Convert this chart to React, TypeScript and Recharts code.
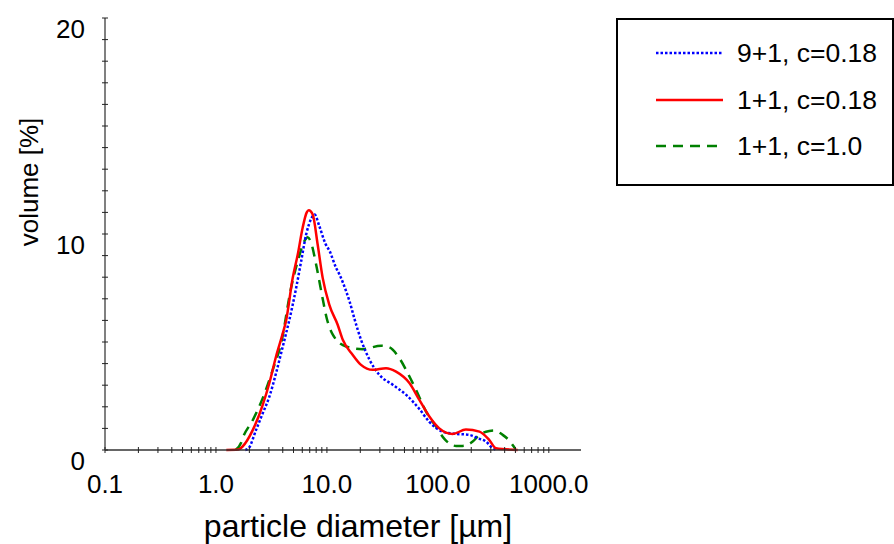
import { LineChart, Line, XAxis, YAxis, Label } from 'recharts';

// particle diameter [µm] / volume [%], one pair of arrays per series
const blueDiameters = [1.84, 1.97, 2.3, 2.64, 3.03, 3.48, 3.87, 4.29, 4.59, 5.28, 5.86, 6.5, 7.21, 7.75, 8.56, 9.7, 10.6, 12.1, 13.0, 14.9, 16.0, 17.7, 20.3, 24.2, 29.7, 39.2, 51.8, 68.1, 83.8, 110, 136, 192, 229, 272, 301, 334];
const blueVolumes = [0, 0.08, 0.93, 1.7, 2.47, 3.56, 4.49, 5.41, 6.03, 7.5, 8.74, 9.98, 10.7, 10.9, 10.35, 9.55, 9.2, 8.43, 8.12, 7.35, 6.88, 6.08, 5.1, 4.18, 3.48, 3.02, 2.55, 1.9, 1.3, 0.85, 0.76, 0.7, 0.54, 0.39, 0.15, 0];

const redDiameters = [1.24, 1.6, 1.73, 2.15, 2.64, 3.03, 3.48, 4.0, 4.29, 4.92, 5.46, 6.05, 6.58, 6.86, 7.45, 8.26, 9.16, 10.5, 12.5, 13.9, 17.1, 20.3, 25.9, 34.1, 42.0, 55.4, 68.1, 83.8, 103, 136, 179, 237, 291, 334, 524];
const redVolumes = [0, 0.02, 0.15, 0.93, 2.09, 3.1, 4.33, 5.4, 6.0, 7.97, 9.05, 10.3, 11.0, 11.1, 10.9, 9.5, 7.97, 6.73, 5.8, 5.1, 4.4, 3.94, 3.71, 3.79, 3.63, 3.1, 2.32, 1.55, 1.0, 0.74, 0.95, 0.85, 0.46, 0.08, 0];

const greenDiameters = [1.5, 1.69, 1.74, 2.15, 2.64, 3.25, 3.87, 4.75, 5.46, 6.27, 6.71, 7.21, 8.0, 9.16, 9.96, 11.3, 14.9, 21.0, 30.8, 36.6, 45.0, 53.5, 63.6, 78.3, 96.4, 115, 146, 167, 206, 237, 291, 323, 384, 441, 472, 499];
const greenVolumes = [0, 0.35, 0.54, 1.39, 2.4, 3.71, 4.95, 7.5, 8.74, 9.67, 9.85, 9.59, 8.58, 7.0, 6.1, 5.34, 4.79, 4.67, 4.83, 4.75, 4.25, 3.56, 2.78, 1.78, 1.08, 0.5, 0.19, 0.19, 0.39, 0.7, 0.88, 0.9, 0.7, 0.43, 0.23, 0.05];

const seriesNames = ['9+1, c=0.18', '1+1, c=0.18', '1+1, c=1.0'];

const xMajorTicks = [0.1, 1, 10, 100, 1000];
const xTickLabels = ['0.1', '1.0', '10.0', '100.0', '1000.0'];
const yLabelledTicks = [0, 10, 20];

const toPoints = (ds: number[], vs: number[]) => ds.map((d, i) => ({ d, v: vs[i] }));

const blueData = toPoints(blueDiameters, blueVolumes);
const redData = toPoints(redDiameters, redVolumes);
const greenData = toPoints(greenDiameters, greenVolumes);

// minor log ticks 0.1 .. 1000
const xTicks: number[] = [];
for (let k = 0; k < 4; k++) {
  for (let m = 1; m <= 9; m++) xTicks.push(Number((m * xMajorTicks[k]).toPrecision(3)));
}
xTicks.push(1000);

const yTicks: number[] = [];
for (let i = 0; i <= 20; i++) yTicks.push(i);

const styles = [
  { stroke: '#0000ff', dash: '2.5 2', width: 2.5 },
  { stroke: '#ff0000', dash: undefined, width: 2.5 },
  { stroke: '#008000', dash: '10 7', width: 2.5 },
];

const FONT = "'Liberation Sans', Arial, sans-serif";

function XTick(props: any) {
  const { x, y, payload } = props;
  const idx = xMajorTicks.findIndex((t) => Math.abs(t - payload.value) < 1e-9);
  return (
    <g>
      <line x1={x} x2={x} y1={y - 3} y2={y + 3} stroke="#222" strokeWidth={1} />
      {idx >= 0 && (
        <text x={x} y={y + 34} textAnchor="middle" dominantBaseline="central" fontSize={26} fill="#000" fontFamily={FONT}>
          {xTickLabels[idx]}
        </text>
      )}
    </g>
  );
}

function YTick(props: any) {
  const { x, y, payload } = props;
  const show = yLabelledTicks.includes(payload.value);
  return (
    <g>
      <line x1={x - 3} x2={x + 3} y1={y} y2={y} stroke="#222" strokeWidth={1} />
      {show && (
        <text x={x - 20} y={y + 11} textAnchor="end" dominantBaseline="central" fontSize={26} fill="#000" fontFamily={FONT}>
          {payload.value}
        </text>
      )}
    </g>
  );
}

export default function App() {
  const rows = [35, 82, 128];
  return (
    <div style={{ position: 'absolute', left: 0, top: 0, width: 894, height: 544, background: '#fff', fontFamily: FONT }}>
      <LineChart width={894} height={544} margin={{ top: 18, right: 313, bottom: 0, left: 0 }}>
        <XAxis
          dataKey="d"
          type="number"
          scale="log"
          domain={[0.1, 1950]}
          allowDataOverflow
          ticks={xTicks}
          interval={0}
          height={94}
          tickSize={0}
          tickMargin={0}
          tickLine={false}
          axisLine={{ stroke: '#333', strokeWidth: 1.5 }}
          tick={(p: any) => <XTick {...p} />}
        >
          <Label
            content={() => (
              <text x={358} y={537} textAnchor="middle" fontSize={32} fill="#000" fontFamily={FONT}>
                particle diameter [µm]
              </text>
            )}
          />
        </XAxis>
        <XAxis
          xAxisId="top"
          orientation="top"
          dataKey="d"
          type="number"
          scale="log"
          domain={[0.1, 1950]}
          height={0}
          tick={false}
          tickLine={false}
          axisLine={{ stroke: '#000', strokeWidth: 1 }}
        />
        <YAxis
          type="number"
          domain={[0, 20]}
          ticks={yTicks}
          interval={0}
          width={105}
          tickSize={0}
          tickMargin={0}
          tickLine={false}
          axisLine={{ stroke: '#808080', strokeWidth: 2 }}
          tick={(p: any) => <YTick {...p} />}
        >
          <Label
            content={() => (
              <text
                x={38}
                y={182}
                transform="rotate(-90, 38, 182)"
                textAnchor="middle"
                fontSize={26}
                fill="#000"
                fontFamily={FONT}
              >
                volume [%]
              </text>
            )}
          />
        </YAxis>
        <YAxis
          yAxisId="right"
          orientation="right"
          type="number"
          domain={[0, 20]}
          width={0}
          tick={false}
          tickLine={false}
          axisLine={{ stroke: '#000', strokeWidth: 1 }}
        />
        <Line data={greenData} dataKey="v" name={seriesNames[2]} type="monotone" stroke={styles[2].stroke} strokeWidth={styles[2].width} strokeDasharray={styles[2].dash} dot={false} isAnimationActive={false} />
        <Line data={blueData} dataKey="v" name={seriesNames[0]} type="monotone" stroke={styles[0].stroke} strokeWidth={styles[0].width} strokeDasharray={styles[0].dash} dot={false} isAnimationActive={false} />
        <Line data={redData} dataKey="v" name={seriesNames[1]} type="monotone" stroke={styles[1].stroke} strokeWidth={styles[1].width} dot={false} isAnimationActive={false} />
      </LineChart>
      <svg width={278} height={168} style={{ position: 'absolute', left: 616, top: 18 }}>
        <rect x={1} y={1} width={276} height={166} fill="#fff" stroke="#000" strokeWidth={2} />
        {seriesNames.map((name, i) => (
          <g key={name}>
            <line x1={40} x2={107} y1={rows[i]} y2={rows[i]} stroke={styles[i].stroke} strokeWidth={styles[i].width} strokeDasharray={styles[i].dash} />
            <text x={121} y={rows[i]} dominantBaseline="central" fontSize={26.5} fill="#000" fontFamily={FONT}>
              {name}
            </text>
          </g>
        ))}
      </svg>
    </div>
  );
}
